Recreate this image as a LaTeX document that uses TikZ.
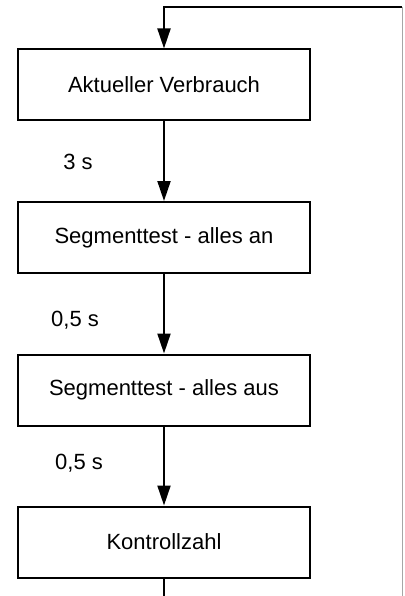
\documentclass[tikz,border=0pt]{standalone}
\usepackage{fontspec}
\setmainfont{Liberation Sans}
\usetikzlibrary{arrows.meta}

\tikzset{
  ablauf/.style={draw=black, line width=2pt, minimum width=292pt, minimum height=71pt, inner sep=0pt, font=\fontsize{22}{26}\selectfont},
  zeit/.style={font=\fontsize{22}{26}\selectfont},
  pfeil/.style={line width=2pt, -{Triangle[length=20pt,width=13pt]}}
}

\begin{document}
\begin{tikzpicture}[x=1pt,y=-1pt]
      \useasboundingbox (0,0) rectangle (404,596);
      \node[ablauf] (verbrauch) at (164,85) {Aktueller Verbrauch};
      \node[ablauf] (alleAn) at (164,237.5) {Segmenttest - alles an};
      \node[ablauf] (alleAus) at (164,390) {Segmenttest - alles aus};
      \node[ablauf] (kontrolle) at (164,542) {Kontrollzahl};
      \node[zeit] (t1) at (78,162) {3 s};
      \node[zeit] (t2) at (75,320) {0,5 s};
      \node[zeit] (t3) at (79,463) {0,5 s};
      \coordinate (ecke) at (402,7);
      \coordinate (oben) at (164,7);
      \coordinate (unten) at (164,596);
      \coordinate (rechts) at (402,596);
      \draw[pfeil] (verbrauch) -- (alleAn);
      \draw[pfeil] (alleAn) -- (alleAus);
      \draw[pfeil] (alleAus) -- (kontrolle);
      \draw[line width=2pt] (kontrolle) -- (unten);
      \draw[pfeil] (ecke) -- (oben) -- (verbrauch);
      \draw[gray!70, line width=1pt] (ecke) -- (rechts);
   \end{tikzpicture}
\end{document}
